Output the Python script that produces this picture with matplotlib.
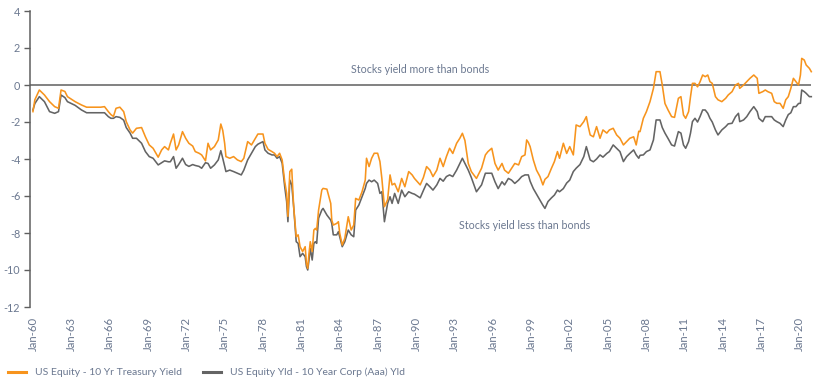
import matplotlib
matplotlib.use("Agg")
import matplotlib.pyplot as plt
from matplotlib.lines import Line2D

# ---- data (decimal years) ----
years = [
    1960.0, 1960.15, 1960.5, 1960.9, 1961.3, 1961.7, 1962.0, 1962.2, 1962.5, 1962.7,
    1963.3, 1963.8, 1964.2, 1964.8, 1965.3, 1965.6, 1965.9, 1966.1, 1966.3, 1966.5,
    1966.8, 1967.1, 1967.3, 1967.6, 1967.8, 1968.1, 1968.5, 1968.8, 1969.1, 1969.4,
    1969.8, 1970.07, 1970.3, 1970.6, 1970.75, 1971.0, 1971.2, 1971.4, 1971.7, 1971.95,
    1972.2, 1972.5, 1972.7, 1973.0, 1973.2, 1973.5, 1973.7, 1973.9, 1974.2, 1974.5,
    1974.7, 1974.85, 1975.0, 1975.1, 1975.4, 1975.7, 1976.0, 1976.3, 1976.5, 1976.8,
    1977.1, 1977.4, 1977.6, 1978.0, 1978.15, 1978.4, 1978.7, 1978.9, 1979.1, 1979.3,
    1979.5, 1979.7, 1979.85, 1979.95, 1980.1, 1980.25, 1980.4, 1980.6, 1980.75, 1980.9,
    1981.1, 1981.3, 1981.4, 1981.5, 1981.6, 1981.7, 1981.85, 1981.98, 1982.1, 1982.2,
    1982.35, 1982.6, 1982.7, 1983.0, 1983.3, 1983.38, 1983.5, 1983.77, 1983.9, 1984.0,
    1984.2, 1984.4, 1984.67, 1984.9, 1985.1, 1985.25, 1985.5, 1985.75, 1986.0, 1986.1,
    1986.3, 1986.5, 1986.7, 1986.97, 1987.15, 1987.3, 1987.5, 1987.75, 1987.94, 1988.1,
    1988.3, 1988.58, 1988.85, 1989.1, 1989.4, 1989.67, 1989.85, 1990.3, 1990.55, 1990.8,
    1991.06, 1991.3, 1991.6, 1991.85, 1992.1, 1992.35, 1992.6, 1992.85, 1993.15, 1993.4,
    1993.6, 1993.8, 1994.06, 1994.3, 1994.7, 1995.1, 1995.4, 1995.6, 1995.9, 1996.15,
    1996.4, 1996.7, 1996.9, 1997.2, 1997.45, 1997.7, 1998.0, 1998.24, 1998.5, 1998.63,
    1998.76, 1998.9, 1999.15, 1999.4, 1999.67, 1999.9, 2000.06, 2000.3, 2000.57, 2000.8,
    2001.04, 2001.2, 2001.5, 2001.76, 2002.0, 2002.28, 2002.5, 2002.8, 2003.1, 2003.3,
    2003.45, 2003.6, 2003.85, 2004.1, 2004.37, 2004.6, 2004.9, 2005.1, 2005.4, 2005.67,
    2005.93, 2006.2, 2006.45, 2006.7, 2007.0, 2007.2, 2007.4, 2007.5, 2007.76, 2008.0,
    2008.28, 2008.55, 2008.76, 2009.06, 2009.24, 2009.45, 2009.7, 2009.97, 2010.2, 2010.5,
    2010.7, 2010.9, 2011.07, 2011.3, 2011.45, 2011.6, 2011.8, 2012.0, 2012.2, 2012.4,
    2012.6, 2012.8, 2012.97, 2013.15, 2013.4, 2013.6, 2013.9, 2014.2, 2014.4, 2014.7,
    2014.97, 2015.2, 2015.3, 2015.6, 2015.85, 2016.1, 2016.4, 2016.67, 2016.8, 2017.1,
    2017.3, 2017.5, 2017.8, 2018.0, 2018.2, 2018.45, 2018.7, 2018.9, 2019.1, 2019.3,
    2019.5, 2019.7, 2019.9, 2020.05, 2020.15, 2020.35, 2020.5, 2020.75, 2020.9,
]

equity_vs_treasury = [
    -1.44, -0.8, -0.27, -0.54, -0.9, -1.17, -1.26, -0.27, -0.35, -0.63,
    -0.9, -1.08, -1.2, -1.2, -1.2, -1.17, -1.44, -1.6, -1.7, -1.26,
    -1.2, -1.44, -1.98, -2.43, -2.6, -2.34, -2.3, -2.8, -3.24, -3.42,
    -3.9, -3.51, -3.33, -3.51, -3.15, -2.65, -3.51, -3.24, -2.52, -2.88,
    -3.15, -3.3, -3.6, -3.69, -3.78, -4.1, -3.15, -3.51, -3.33, -2.97,
    -2.11, -2.45, -3.15, -3.87, -3.96, -3.87, -4.05, -4.14, -3.96, -3.06,
    -3.24, -2.88, -2.65, -2.65, -3.15, -3.48, -3.6, -3.69, -3.87, -3.69,
    -4.05, -5.22, -5.86, -7.1, -4.68, -4.55, -6.58, -8.2, -8.1, -8.74,
    -9.0, -8.74, -9.64, -9.91, -9.1, -8.47, -9.0, -7.84, -7.75, -7.84,
    -6.76, -5.68, -5.59, -5.63, -6.4, -7.3, -7.57, -7.48, -7.39, -8.0,
    -8.65, -8.29, -7.12, -7.84, -7.57, -6.13, -6.22, -5.77, -5.14, -3.96,
    -4.41, -3.96, -3.69, -3.69, -4.14, -5.05, -6.58, -6.2, -4.86, -5.4,
    -5.32, -5.77, -5.05, -5.5, -4.68, -4.86, -5.05, -5.4, -5.0, -4.41,
    -4.6, -4.95, -4.6, -3.96, -4.41, -3.87, -3.42, -3.7, -3.15, -2.88,
    -2.61, -3.0, -4.24, -4.68, -5.05, -4.5, -3.78, -3.6, -3.42, -4.24,
    -4.6, -4.24, -4.6, -4.77, -4.5, -4.24, -4.32, -3.87, -3.78, -2.97,
    -3.1, -3.33, -4.05, -4.6, -4.95, -5.4, -5.1, -4.95, -4.5, -4.14,
    -3.6, -3.96, -3.15, -3.7, -3.33, -3.78, -2.16, -2.25, -1.98, -1.71,
    -2.25, -2.7, -2.8, -2.25, -2.88, -2.43, -2.6, -2.43, -2.34, -2.7,
    -2.88, -3.24, -3.06, -2.88, -2.8, -3.24, -2.5, -2.52, -1.8, -1.44,
    -0.9, -0.18, 0.72, 0.72, 0.0, -1.0, -1.36, -1.71, -1.75, -0.72,
    -0.63, -1.62, -1.8, -1.44, -0.63, 0.09, 0.09, -0.1, 0.18, 0.54,
    0.45, 0.54, 0.18, 0.09, -0.63, -0.8, -0.9, -0.72, -0.54, -0.36,
    0.0, 0.09, -0.18, 0.0, 0.18, 0.36, 0.54, 0.36, -0.45, -0.36,
    -0.27, -0.36, -0.45, -0.9, -0.99, -0.99, -1.26, -0.8, -0.63, -0.18,
    0.36, 0.18, 0.0, 0.54, 1.44, 1.35, 1.08, 0.9, 0.72,
]

equity_vs_corp = [
    -1.35, -1.0, -0.63, -0.9, -1.44, -1.53, -1.44, -0.54, -0.68, -0.9,
    -1.1, -1.35, -1.5, -1.5, -1.5, -1.5, -1.71, -1.8, -1.8, -1.71,
    -1.75, -1.9, -2.3, -2.6, -2.88, -2.88, -3.15, -3.6, -3.87, -3.96,
    -4.32, -4.2, -4.1, -4.15, -4.15, -3.87, -4.5, -4.3, -3.96, -4.3,
    -4.4, -4.3, -4.35, -4.4, -4.5, -4.2, -4.24, -4.5, -4.32, -4.05,
    -3.55, -3.96, -4.4, -4.68, -4.6, -4.68, -4.77, -4.86, -4.6, -4.05,
    -3.69, -3.33, -3.2, -3.06, -3.51, -3.69, -3.78, -3.78, -3.96, -3.87,
    -4.23, -5.5, -6.3, -7.39, -5.14, -5.4, -6.58, -8.47, -8.56, -9.28,
    -9.1, -9.28, -9.82, -10.0, -9.46, -8.83, -9.46, -8.56, -8.47, -8.56,
    -7.2, -6.76, -6.67, -7.03, -7.3, -7.48, -8.1, -8.1, -7.93, -8.2,
    -8.74, -8.47, -7.84, -8.1, -8.2, -6.76, -6.49, -6.04, -5.59, -5.32,
    -5.14, -5.23, -5.14, -5.32, -5.86, -5.77, -7.39, -6.4, -6.04, -6.4,
    -5.86, -6.4, -5.68, -6.04, -5.77, -5.86, -5.9, -6.1, -5.7, -5.32,
    -5.5, -5.68, -5.4, -5.05, -5.2, -4.95, -4.86, -4.95, -4.6, -4.24,
    -3.96, -4.24, -4.6, -5.0, -5.77, -5.4, -4.77, -4.77, -4.77, -5.23,
    -5.6, -5.23, -5.4, -5.05, -5.14, -5.32, -5.14, -4.95, -4.86, -4.86,
    -4.86, -5.2, -5.6, -5.9, -6.22, -6.5, -6.67, -6.3, -6.1, -5.95,
    -5.68, -5.77, -5.6, -5.3, -5.14, -4.68, -4.5, -4.3, -3.87, -3.33,
    -3.7, -4.05, -4.15, -4.0, -3.78, -3.9, -3.7, -3.6, -3.24, -3.42,
    -3.6, -4.14, -3.87, -3.7, -3.51, -3.78, -3.96, -3.8, -3.78, -3.6,
    -3.51, -2.97, -1.89, -1.89, -2.3, -2.6, -2.9, -3.24, -3.3, -2.52,
    -2.6, -3.24, -3.42, -3.06, -2.6, -1.98, -1.8, -2.0, -1.7, -1.35,
    -1.35, -1.53, -1.8, -2.0, -2.43, -2.7, -2.43, -2.25, -2.1, -2.07,
    -1.71, -1.53, -1.98, -1.89, -1.71, -1.44, -1.17, -1.44, -1.8, -1.98,
    -1.71, -1.71, -1.71, -1.89, -1.98, -2.07, -2.25, -1.89, -1.6, -1.5,
    -1.17, -1.17, -1.0, -0.99, -0.27, -0.36, -0.45, -0.63, -0.63,
]

tick_years = list(range(1960, 2021, 3))
tick_labels = ["Jan-%02d" % (y % 100) for y in tick_years]
y_ticks = list(range(-12, 5, 2))
series_names = ["US Equity - 10 Yr Treasury Yield", "US Equity Yld - 10 Year Corp (Aaa) Yld"]

# ---- style ----
ORANGE = "#F7941D"
GRAY = "#646464"
TEXT = "#6b7890"
AXIS = "#5f5f5f"
plt.rcParams["font.family"] = ["Lato", "DejaVu Sans"]
FS = 7.5

fig = plt.figure(figsize=(8.25, 3.88), dpi=100)
ax = fig.add_axes([30 / 825, 1 - 307 / 388, 785 / 825, 296 / 388])

ax.plot(years, equity_vs_corp, color=GRAY, lw=1.15, zorder=3)
ax.plot(years, equity_vs_treasury, color=ORANGE, lw=1.15, zorder=4)
ax.hlines(0, 1959.77, years[-1], color=AXIS, lw=1.1, zorder=2)

ax.set_xlim(1959.77, 2021.19)
ax.set_ylim(-12, 4)

for s in ["top", "right", "bottom"]:
    ax.spines[s].set_visible(False)
ax.spines["left"].set_color(AXIS)
ax.spines["left"].set_linewidth(1.1)

ax.set_yticks(y_ticks)
ax.set_yticklabels([str(v) for v in y_ticks])
ax.tick_params(axis="y", length=4, width=1.0, color=AXIS, labelcolor=TEXT,
               labelsize=7.8, pad=3)
ax.set_xticks(tick_years)
ax.set_xticklabels(tick_labels, rotation=90)
ax.tick_params(axis="x", length=0, labelcolor=TEXT, labelsize=8.2, pad=7)

ax.text(1990.28, 0.86, "Stocks yield more than bonds", ha="center", va="center",
        color=TEXT, fontsize=7.7)
ax.text(1993.33, -7.57, "Stocks yield less than bonds", ha="left", va="center",
        color=TEXT, fontsize=7.7)

handles = [Line2D([], [], color=ORANGE, lw=2.2), Line2D([], [], color=GRAY, lw=2.2)]
fig.legend(handles, series_names, loc="lower left", bbox_to_anchor=(-0.002, 0.003),
           ncol=2, frameon=False, fontsize=FS, labelcolor=TEXT,
           handlelength=1.75, handletextpad=0.85, columnspacing=2.0)

fig.savefig("out.png", dpi=100)
